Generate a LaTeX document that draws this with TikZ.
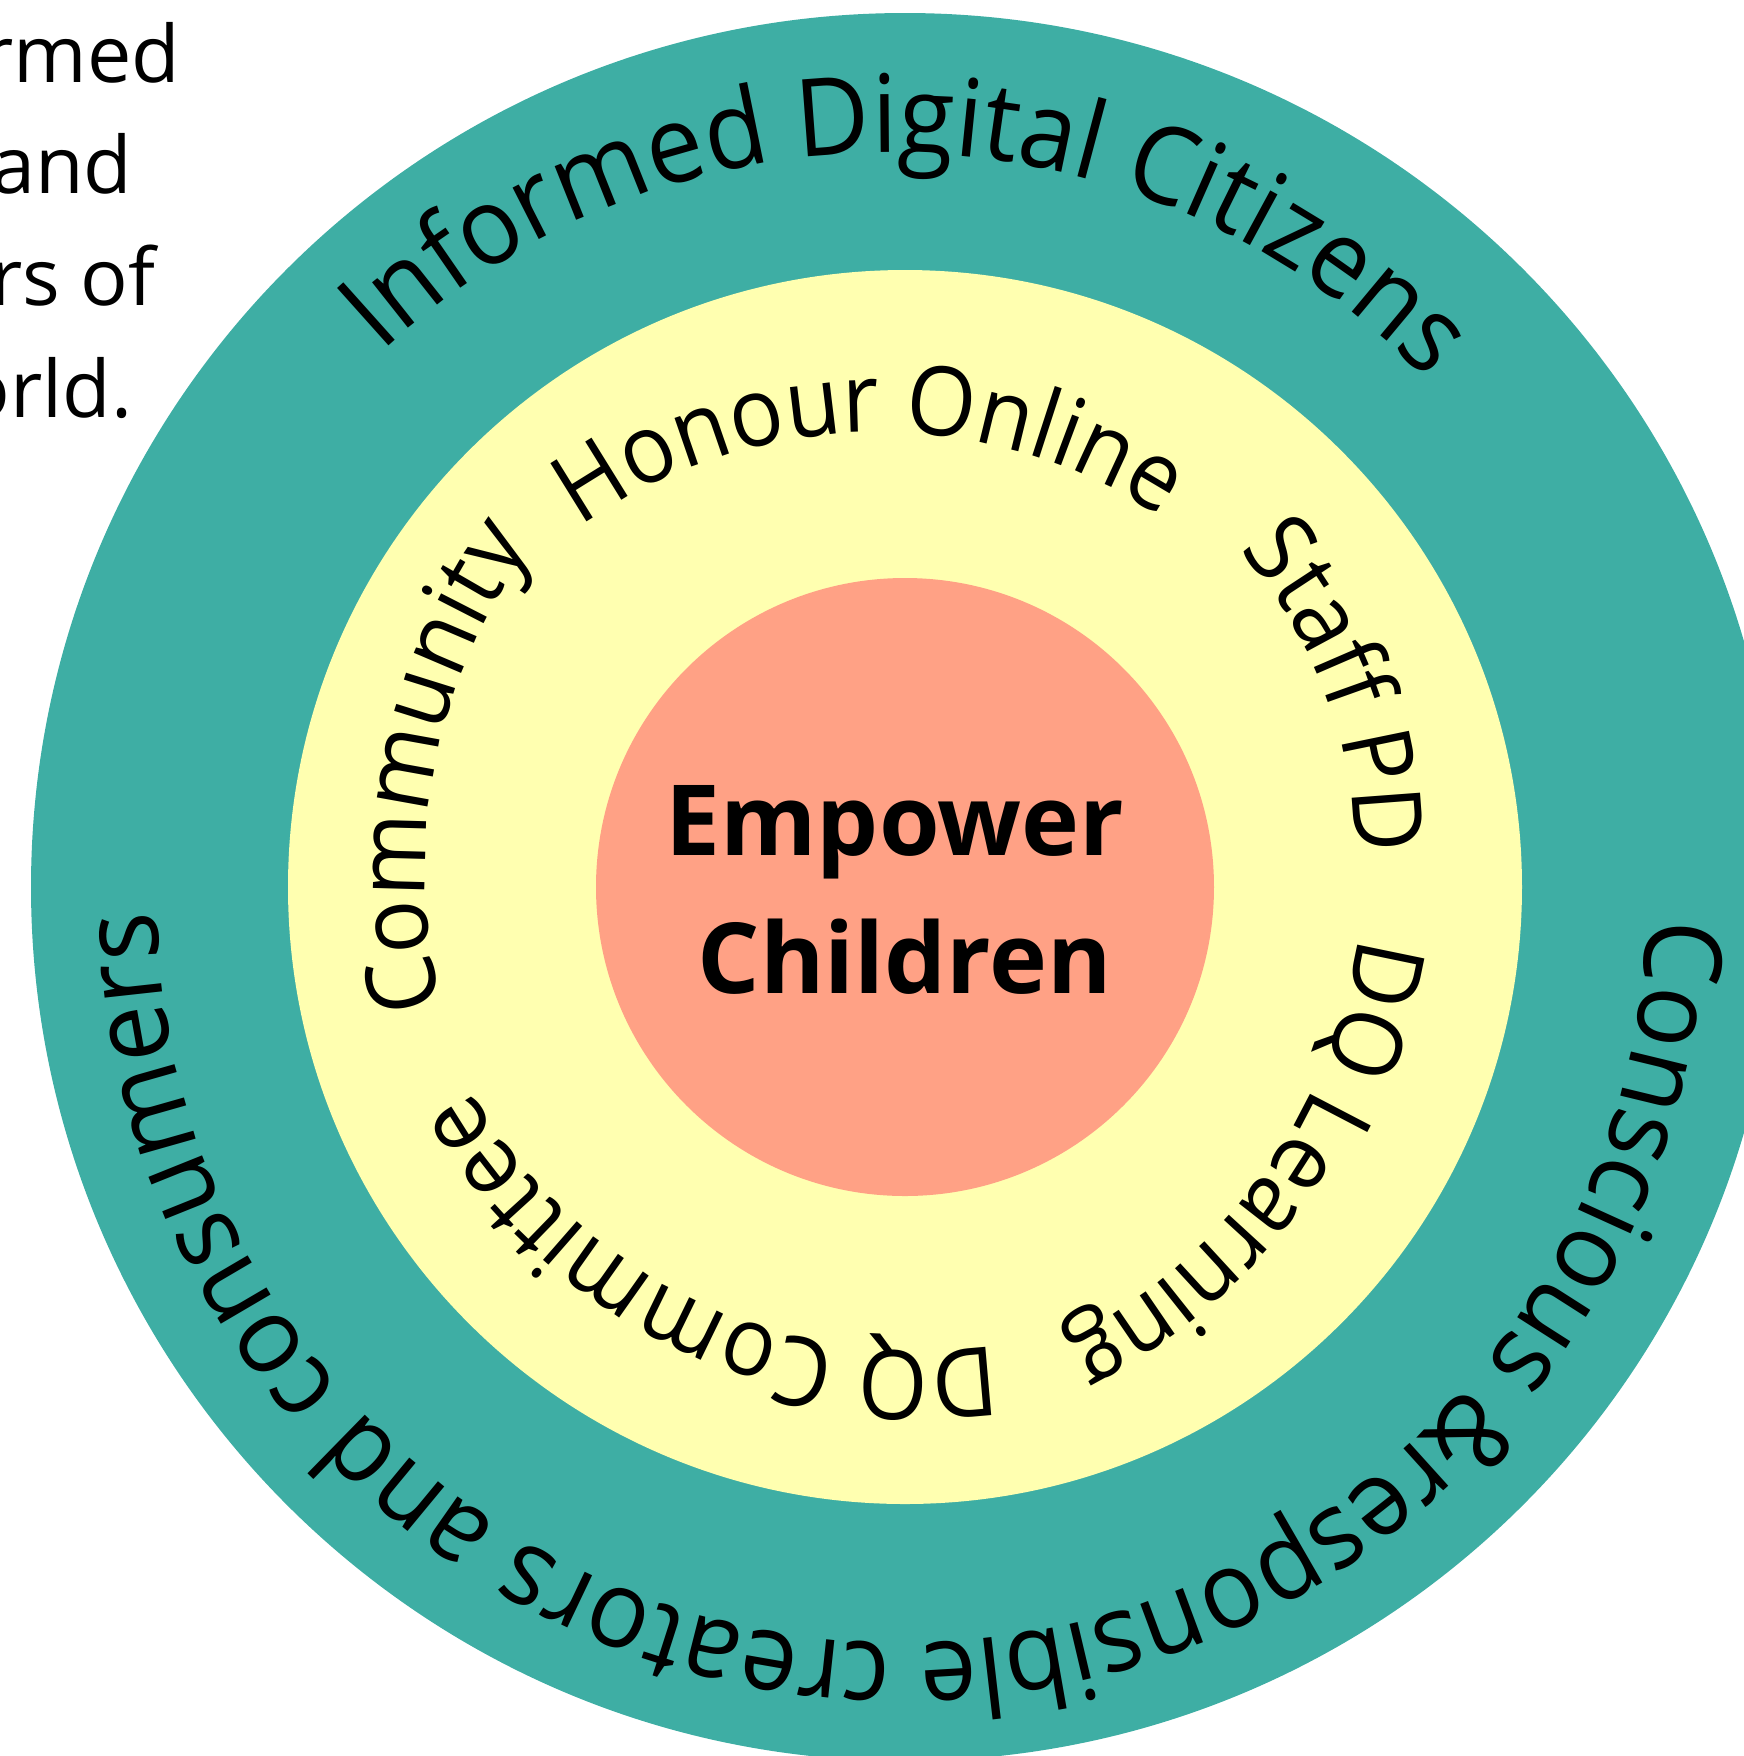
\documentclass[tikz,border=0pt]{standalone}
\usepackage{fontspec}
\setmainfont{Open Sans}
\newfontfamily\arcfont{Open Sans}[FakeStretch=0.93]
\newfontfamily\outerarcfont{Open Sans}[FakeStretch=0.94]
\usetikzlibrary{decorations.text}
\definecolor{ringteal}{RGB}{62,174,164}
\definecolor{ringyellow}{RGB}{255,255,176}
\definecolor{coresalmon}{RGB}{255,161,133}
\newcommand\outerfmt{\outerarcfont\fontsize{30.7pt}{36pt}\selectfont}
\newcommand\innerfmt{\arcfont\fontsize{27.3pt}{32pt}\selectfont}
% #1,#2 offset of the arc centre from (c), #3 radius, #4 mid angle, #5 half span, #6 text
\newcommand\ringtext[6]{%
  \path[arctext={#6}] (c) ++(#1,#2) ++({#4+#5}:#3)
    arc[start angle={#4+#5}, end angle={#4-#5}, radius=#3];}
\begin{document}
\begin{tikzpicture}[x=0.01cm,y=0.01cm,
  arctext/.style={decorate, decoration={text along path, text align=center, text={#1}}},
  sidetext/.style={anchor=base east, inner sep=0pt, font=\fontsize{22.5pt}{27pt}\selectfont},
  coretext/.style={anchor=base, inner sep=0pt, font=\bfseries\fontsize{27.9pt}{33pt}\selectfont}]
\useasboundingbox (0,0) rectangle (1744,-1756);
\coordinate (c) at (905,-887);
% rings
\fill[ringteal] (c) circle[radius=874];
\fill[ringyellow] (c) circle[radius=617];
\fill[coresalmon] (c) circle[radius=309];
% side text (cut by the left edge)
\node[sidetext] (l1) at (181,-82) {rmed};
\node[sidetext] (l2) at (133,-193) {and};
\node[sidetext] (l3) at (156,-305) {rs of};
\node[sidetext] (l4) at (133,-417) {orld.};
% core
\node[coretext] (emp) at (895,-855) {Empower};
\node[coretext] (chi) at (905,-993) {Children};
% outer ring texts
\ringtext{-14.6}{-13.8}{748}{88.5}{60}{|\outerfmt|Informed Digital Citizens}
\ringtext{-3}{-11.4}{745}{-90.3}{100}{|\outerfmt|Conscious {\&}responsible creators and consumers}
% inner ring texts
\ringtext{-27}{-58}{513}{91}{50}{|\innerfmt|Honour Online}
\ringtext{-13}{31}{463}{20.8}{40}{|\innerfmt|Staff PD}
\ringtext{-78}{27.5}{537}{-36}{45}{|\innerfmt|DQ Learning}
\ringtext{12.6}{49}{513}{-116}{50}{|\innerfmt|DQ Committee}
\ringtext{69}{16}{549}{169}{40}{|\innerfmt|Community}
\end{tikzpicture}
\end{document}
